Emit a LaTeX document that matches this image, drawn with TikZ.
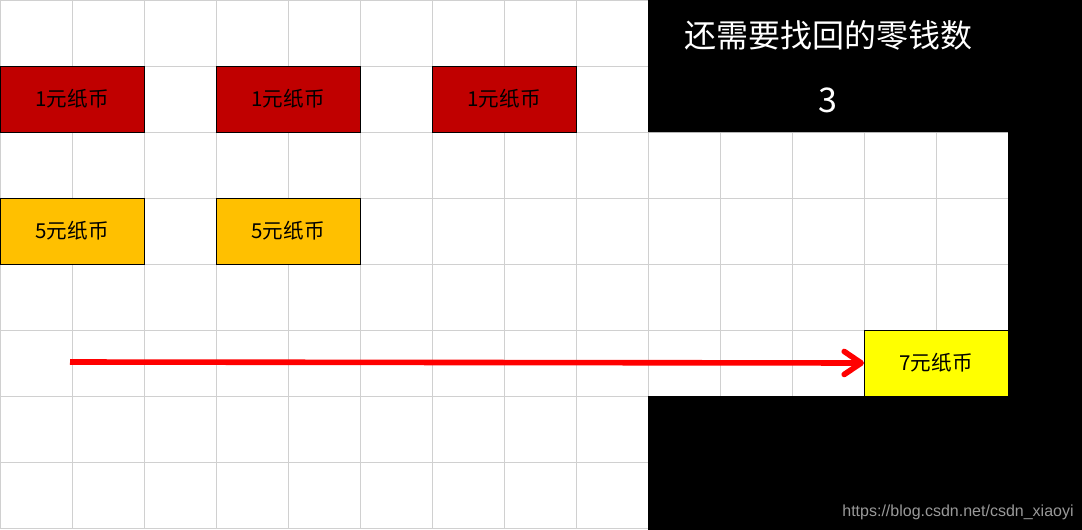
\documentclass[tikz,border=0pt]{standalone}
\usepackage{fontspec}
\setmainfont{Noto Sans CJK SC}
\newfontfamily\markfont{Liberation Sans}
\usetikzlibrary{arrows.meta}
\definecolor{onered}{HTML}{C00000}
\definecolor{fiveorange}{HTML}{FFC000}
\definecolor{sevenyellow}{HTML}{FFFF00}
\definecolor{gridgray}{HTML}{D0D0D0}
\tikzset{
    gridline/.style={draw=gridgray, line width=0.5pt},
    bill/.style={draw=black, line width=0.5pt, minimum width=72pt, minimum height=33pt, inner sep=0pt, outer sep=0pt, font=\fontsize{10.3}{12}\selectfont, text=black},
    onebill/.style={bill, fill=onered},
    fivebill/.style={bill, fill=fiveorange},
    sevenbill/.style={bill, fill=sevenyellow},
    paypath/.style={draw=red, line width=2.8pt, -{Straight Barb[round, length=8.5pt, width=11.5pt]}}
}

\begin{document}
\begin{tikzpicture}[x=0.5pt, y=-0.5pt]
    \useasboundingbox[fill=white] (0,0) rectangle (1082,530);

    % grid
    \foreach \gx in {0,72,...,1008} \draw[gridline] (\gx,0) -- (\gx,528);
    \foreach \gy in {0,66,...,528} \draw[gridline] (0,\gy) -- (1008,\gy);

    % black frame
    \fill[black] (648,0) -- (1082,0) -- (1082,530) -- (648,530) -- (648,396)
        -- (1008,396) -- (1008,132) -- (648,132) -- cycle;

    \node[onebill] (one1) at (72,99) {1元纸币};
    \node[onebill] (one2) at (288,99) {1元纸币};
    \node[onebill] (one3) at (504,99) {1元纸币};
    \node[fivebill] (five1) at (72,231) {5元纸币};
    \node[fivebill] (five2) at (288,231) {5元纸币};
    \node[sevenbill] (seven) at (936,363) {7元纸币};

    \node[text=white, font=\fontsize{16}{19}\selectfont] (title) at (828,35) {还需要找回的零钱数};
    \node[text=white, font=\fontsize{17}{20}\selectfont] (left) at (828,100) {3};
    \node[text=gray!80, font=\markfont\fontsize{8}{9.5}\selectfont] (mark) at (958,512) {https://blog.csdn.net/csdn\_xiaoyi};

    \coordinate (start) at (70,362);
    \draw[paypath] (start) -- (seven.west);

\end{tikzpicture}
\end{document}
